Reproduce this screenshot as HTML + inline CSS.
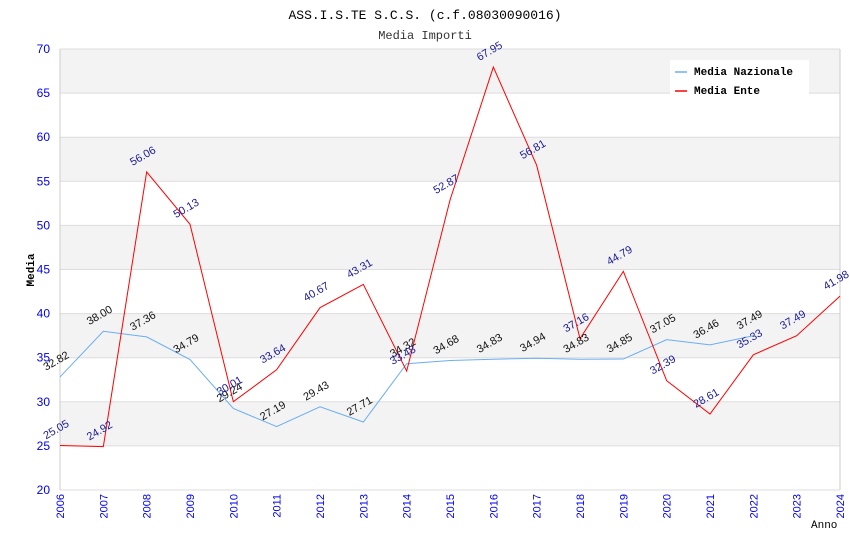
<!DOCTYPE html>
<html><head><meta charset="utf-8"><style>
body{margin:0;background:#fff;width:850px;height:550px;overflow:hidden}
text{font-family:"Liberation Sans",sans-serif}
</style></head><body>
<svg id="chart" width="850" height="550">
<text x="425" y="19" text-anchor="middle" font-family="Liberation Mono" style="font-family:'Liberation Mono',monospace;font-size:13px">ASS.I.S.TE S.C.S. (c.f.08030090016)</text>
<text x="425" y="39" text-anchor="middle" style="font-family:'Liberation Mono',monospace;font-size:12px;fill:#333">Media Importi</text>
<g id="bands"></g><g id="grid"></g><g id="axes"></g><g id="series"></g><g id="labels"></g>
<text transform="translate(34,270) rotate(-90)" text-anchor="middle" style="font-family:'Liberation Mono',monospace;font-size:11px;font-weight:bold">Media</text>
<text x="811" y="528" style="font-family:'Liberation Mono',monospace;font-size:11px">Anno</text>
<g>
<rect x="670" y="60" width="139" height="36" fill="#fff"/>
<line x1="675" y1="72" x2="687" y2="72" stroke="#6aaef0" stroke-width="1.5"/>
<text x="694" y="75" style="font-family:'Liberation Mono',monospace;font-size:11px;font-weight:bold">Media Nazionale</text>
<line x1="675" y1="91" x2="687" y2="91" stroke="#ff0000" stroke-width="1.5"/>
<text x="694" y="94" style="font-family:'Liberation Mono',monospace;font-size:11px;font-weight:bold">Media Ente</text>
</g>
</svg>
<script>
const years=[2006,2007,2008,2009,2010,2011,2012,2013,2014,2015,2016,2017,2018,2019,2020,2021,2022,2023,2024];
const nazionale=[32.82,38.00,37.36,34.79,29.24,27.19,29.43,27.71,34.32,34.68,34.83,34.94,34.83,34.85,37.05,36.46,37.49];
const ente=[25.05,24.92,56.06,50.13,30.01,33.64,40.67,43.31,33.48,52.87,67.95,56.81,37.16,44.79,32.39,28.61,35.33,37.49,41.98];
const yTicks=[20,25,30,35,40,45,50,55,60,65,70];
const NS="http://www.w3.org/2000/svg";
const X0=60,X1=840,Y0=490,Y1=49;
const xs=i=>X0+(X1-X0)*i/(years.length-1);
const ys=v=>Y0-(v-20)/(70-20)*(Y0-Y1);
function mk(tag,attrs,parent){const e=document.createElementNS(NS,tag);for(const k in attrs)e.setAttribute(k,attrs[k]);document.getElementById(parent).appendChild(e);return e;}
for(let i=0;i<yTicks.length-1;i++){
 if(i%2===1){const r=mk('rect',{x:X0,y:ys(yTicks[i+1]),width:X1-X0,height:ys(yTicks[i])-ys(yTicks[i+1]),fill:'#f3f3f3'},'bands');
 
 }
}
yTicks.forEach(t=>{
 const l=mk('line',{x1:X0,x2:X1,y1:ys(t),y2:ys(t),stroke:'#dddddd'},'grid');
 
 
 const tx=mk('text',{x:X0-10,y:ys(t)+4,'text-anchor':'end',fill:'#0000ee','font-size':'12'},'axes');
 tx.textContent=t;
 
 
});
const ax=mk('line',{x1:X0,x2:X0,y1:Y1,y2:Y0,stroke:'#cccccc'},'axes');


const ax2=mk('line',{x1:X1,x2:X1,y1:Y1,y2:Y0,stroke:'#cccccc'},'axes');


years.forEach((y,i)=>{
 const t=mk('text',{transform:`translate(${xs(i)+4},${Y0+4}) rotate(-90)`,'text-anchor':'end',fill:'#0000ee','font-size':'11'},'axes');
 t.textContent=y;
 
 
});
function series(vals,color,lc,name){
 const p=mk('polyline',{points:vals.map((v,i)=>xs(i)+','+ys(v)).join(' '),fill:'none',stroke:color,'stroke-width':1},'series');
 
 
 vals.forEach((v,i)=>{
  const t=mk('text',{transform:`translate(${xs(i)-14},${ys(v)-6}) rotate(-30)`,fill:lc,'font-size':'11'},'labels');
  t.textContent=v.toFixed(2);
  
  
 });
}
series(nazionale,'#6aaef0','#111','nazionale');
series(ente,'#ff0000','#1a1a99','ente');
</script>
</body></html>
